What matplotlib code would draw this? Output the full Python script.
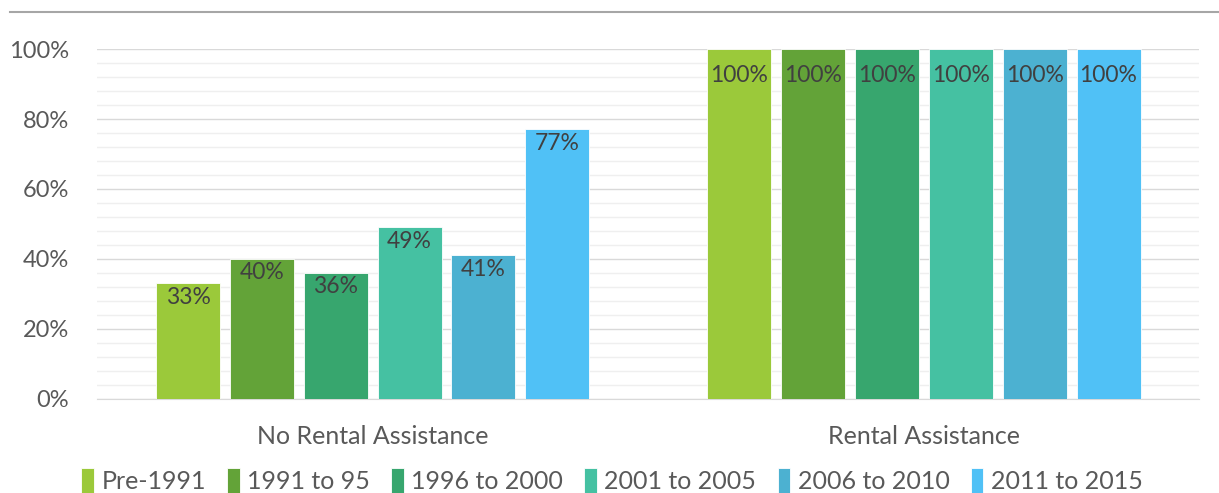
import numpy as np
import matplotlib
matplotlib.use("Agg")
import matplotlib.pyplot as plt
from matplotlib.lines import Line2D
from matplotlib.ticker import MultipleLocator, FuncFormatter

plt.rcParams['font.family'] = ['Lato', 'DejaVu Sans']

# data
categories = ["No Rental Assistance", "Rental Assistance"]
periods = ["Pre-1991", "1991 to 95", "1996 to 2000", "2001 to 2005", "2006 to 2010", "2011 to 2015"]
no_assist = [33, 40, 36, 49, 41, 77]
with_assist = [100, 100, 100, 100, 100, 100]
colors = ["#9bc93a", "#63a338", "#37a66e", "#45c1a2", "#4cb1d1", "#50c1f6"]

# label offset below bar top, per category group (in % units)
label_drop = [1.0, 4.5]

fig = plt.figure(figsize=(12.19, 4.93), dpi=100)
ax = fig.add_axes([0.0796, 0.1907, 0.9044, 0.7099])

x = np.arange(len(categories))
step = 0.134
width = 0.116
n = len(periods)
for i, (p, c) in enumerate(zip(periods, colors)):
    vals = [no_assist[i], with_assist[i]]
    pos = x + (i - (n - 1) / 2) * step
    ax.bar(pos, vals, width=width, color=c, label=p, edgecolor="#ffffff", linewidth=0.6, zorder=3)
    for k, (xp, v) in enumerate(zip(pos, vals)):
        ax.text(xp, v - label_drop[k], f"{v}%", ha="center", va="top", fontsize=16.5,
                color="#404040", zorder=4)

ax.set_xlim(-0.5, 1.5)
ax.set_ylim(0, 100)
ax.yaxis.set_major_locator(MultipleLocator(20))
ax.yaxis.set_minor_locator(MultipleLocator(4))
ax.yaxis.set_major_formatter(FuncFormatter(lambda v, _: f"{int(v)}%"))
ax.grid(axis="y", which="major", color="#d9d9d9", linewidth=1.0, zorder=0)
ax.grid(axis="y", which="minor", color="#efefef", linewidth=1.0, zorder=0)
ax.set_axisbelow(True)
ax.set_xticks(x)
ax.set_xticklabels(categories)
ax.tick_params(axis="both", which="both", length=0, labelsize=17, colors="#595959")
ax.tick_params(axis="x", labelsize=18, pad=19)
ax.tick_params(axis="y", pad=20)
for s in ["top", "right", "left"]:
    ax.spines[s].set_visible(False)
ax.spines["bottom"].set_color("#d9d9d9")

fig.add_artist(Line2D([0.008, 1.0], [0.976, 0.976], color="#a6a6a6", linewidth=1.5,
                      transform=fig.transFigure))

leg = fig.legend(loc="center", bbox_to_anchor=(0.502, 0.025), ncol=6, frameon=False,
                 fontsize=18, handlelength=0.5, handleheight=1.15, handletextpad=0.3,
                 columnspacing=0.85, labelcolor="#595959")

fig.savefig("out.png", dpi=100)
